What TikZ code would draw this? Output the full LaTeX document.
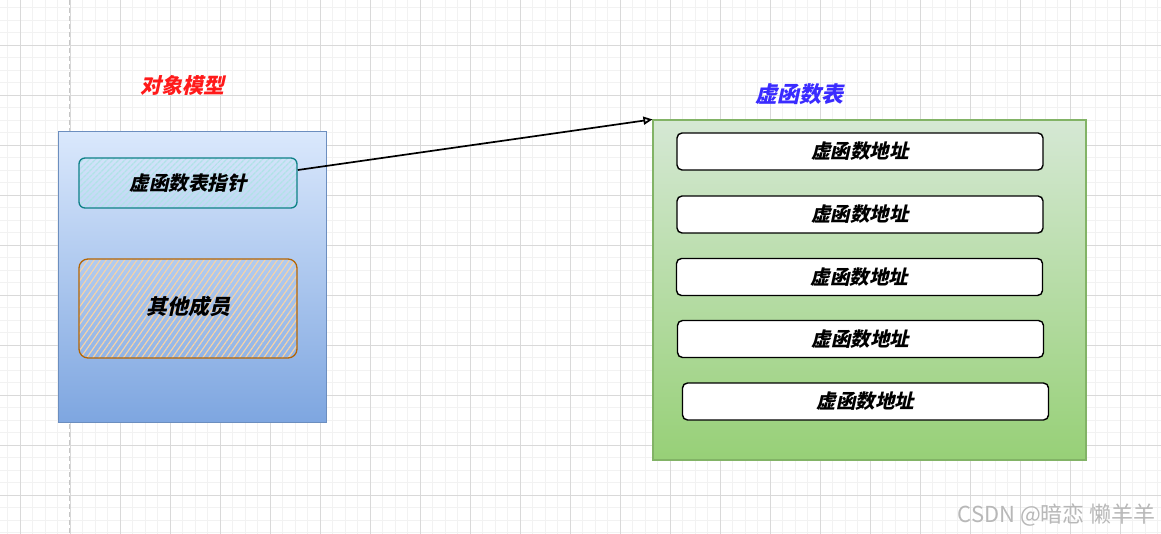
\documentclass[tikz,border=0pt]{standalone}
\usepackage{fontspec}
\newfontfamily\cjkbi[BoldFeatures={FakeSlant=0.22}]{Noto Sans CJK SC}
\newfontfamily\cjkplain{Noto Sans CJK SC}
\usetikzlibrary{arrows.meta,patterns.meta}
\definecolor{gminor}{HTML}{F2F2F2}
\definecolor{gmajor}{HTML}{D9D9D9}
\definecolor{bluetop}{HTML}{DAE8FC}
\definecolor{bluebot}{HTML}{7EA6E0}
\definecolor{blueline}{HTML}{6C8EBF}
\definecolor{greentop}{HTML}{D5E8D4}
\definecolor{greenbot}{HTML}{97D077}
\definecolor{greenline}{HTML}{82B366}
\definecolor{tealline}{HTML}{0E8088}
\definecolor{tealhatch}{HTML}{B0E3E6}
\definecolor{orgline}{HTML}{B46504}
\definecolor{orghatch}{HTML}{F5D3A8}
\definecolor{titlered}{HTML}{FF1A1A}
\definecolor{titleblue}{HTML}{3A2BFF}
\tikzset{
  bigtxt/.style={font=\cjkbi\bfseries\fontsize{19.5}{22}\selectfont},
  titletxt/.style={font=\cjkbi\bfseries\fontsize{21}{23}\selectfont},
  outerblue/.style={draw=blueline, line width=1pt, top color=bluetop, bottom color=bluebot,
    minimum width=268pt, minimum height=290pt, inner sep=0pt},
  outergreen/.style={draw=greenline, line width=1.2pt, top color=greentop, bottom color=greenbot,
    minimum width=433pt, minimum height=340pt, inner sep=0pt},
  ptrbox/.style={bigtxt, draw=tealline, line width=1.3pt, rounded corners=6pt,
    pattern={Lines[angle=45,distance=4pt,line width=1.6pt]}, pattern color=tealhatch,
    minimum width=218pt, minimum height=50pt, inner sep=0pt},
  otherbox/.style={draw=orgline, line width=1.3pt, rounded corners=9pt,
    pattern={Lines[angle=55,distance=5pt,line width=1.2pt]}, pattern color=orghatch,
    minimum width=218pt, minimum height=99pt, inner sep=0pt},
  rowbox/.style={bigtxt, draw=black, line width=1.4pt, fill=white, rounded corners=5pt,
    minimum width=366pt, minimum height=37pt, inner sep=0pt},
  link/.style={draw=black, line width=1.7pt, -{Triangle[open,length=9pt,width=8pt]}},
}
\begin{document}
\begin{tikzpicture}[x=1pt,y=-1pt]
\useasboundingbox (0,0) rectangle (1161,534);
\fill[white] (0,0) rectangle (1161,534);
% grid
\foreach \i [evaluate=\i as \x using 7.5+12.5*\i] in {0,...,92}
  \draw[gminor, line width=0.8pt] (\x,0) -- (\x,534);
\foreach \j [evaluate=\j as \y using 7.5+12.5*\j] in {0,...,42}
  \draw[gminor, line width=0.8pt] (0,\y) -- (1161,\y);
\foreach \i [evaluate=\i as \x using 20+50*\i] in {0,...,22}
  \draw[gmajor, line width=0.8pt] (\x,0) -- (\x,534);
\foreach \j [evaluate=\j as \y using 45+50*\j] in {0,...,9}
  \draw[gmajor, line width=0.8pt] (0,\y) -- (1161,\y);
\draw[gray!45, line width=1pt, dash pattern=on 5pt off 3pt] (69,0) -- (69,534);

% object model
\node[titletxt, text=titlered] (t1) at (182,85) {对象模型};
\node[outerblue] (obj) at (192,277) {};
\node[ptrbox] (vptr) at (188,183) {虚函数表指针};
\node[otherbox] (oth) at (188,308.5) {};
\node[titletxt] (othtxt) at (188,306) {其他成员};

% vtable
\node[titletxt, text=titleblue, font=\cjkbi\bfseries\fontsize{22}{24}\selectfont] (t2) at (799,94) {虚函数表};
\node[outergreen] (vtbl) at (869.5,290) {};
\node[rowbox] (r1) at (860,151.5) {虚函数地址};
\node[rowbox] (r2) at (860,214.5) {虚函数地址};
\node[rowbox] (r3) at (859.5,277) {虚函数地址};
\node[rowbox] (r4) at (860.5,339) {虚函数地址};
\node[rowbox] (r5) at (865.5,401.5) {虚函数地址};

% arrow
\draw[link] (vptr.east |- 0,170) coordinate (a0) -- (vtbl.north west);

% watermark
\node[anchor=east, text=black!28, font=\cjkplain\fontsize{22}{24}\selectfont, inner sep=0pt] (wm) at (1156,515) {CSDN @暗恋 懒羊羊};
\end{tikzpicture}
\end{document}
